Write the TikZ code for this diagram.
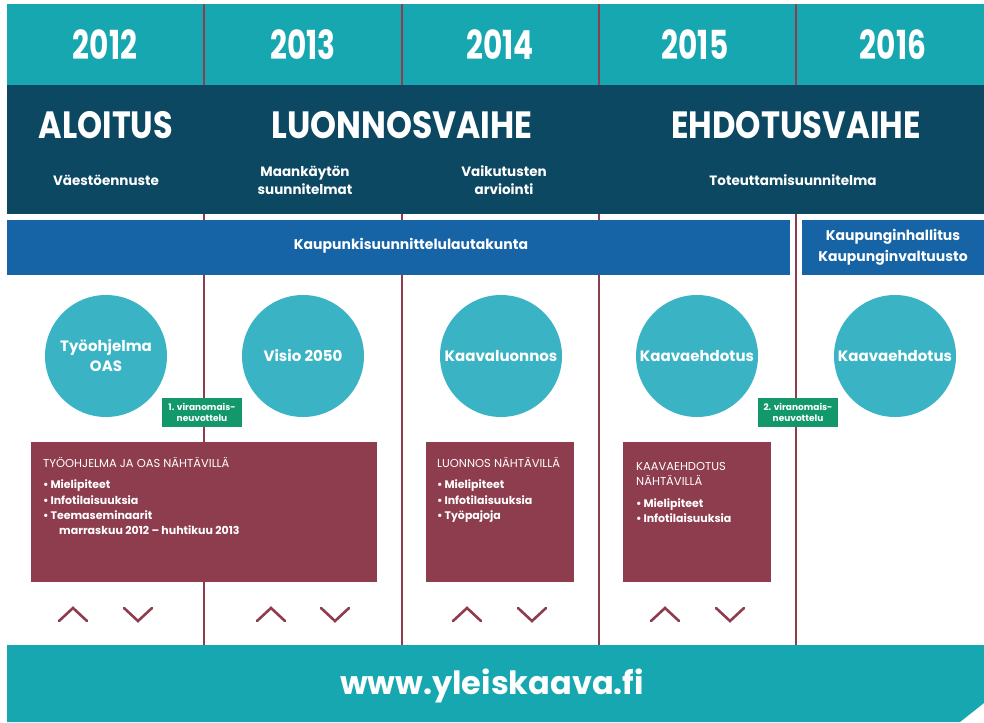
\documentclass[tikz,border=0pt]{standalone}
\usepackage{fontspec}
\setmainfont{Poppins}
\definecolor{tealband}{HTML}{17A7B0}
\definecolor{darkband}{HTML}{0C4862}
\definecolor{blueband}{HTML}{1664A5}
\definecolor{circ}{HTML}{3AB4C5}
\definecolor{maroon}{HTML}{8E3D4E}
\definecolor{vline}{HTML}{8E3D4E}
\definecolor{greenbox}{HTML}{12986A}
\begin{document}
\begin{tikzpicture}[x=1pt,y=-1pt,
  yeartxt/.style={text=white,inner sep=0,font=\fontsize{40}{40}\selectfont\bfseries},
  phasetxt/.style={text=white,inner sep=0,font=\fontsize{38}{38}\selectfont\bfseries},
  subtxt/.style={text=white,inner sep=0,font=\fontsize{13.5}{18}\selectfont\bfseries,align=center},
  bandtxt/.style={text=white,inner sep=0,font=\fontsize{14}{21}\selectfont\bfseries,align=center},
  circnode/.style={circle,fill=circ,minimum size=122pt,inner sep=0,text=white,font=\fontsize{15}{20}\selectfont\bfseries,align=center},
  greennode/.style={fill=greenbox,minimum width=80pt,minimum height=29pt,inner sep=0,text=white,font=\fontsize{9}{11}\selectfont\bfseries,align=center},
  boxnode/.style={fill=maroon,inner sep=0,anchor=north west},
  boxtitle/.style={text=white,inner sep=0,anchor=base west,font=\fontsize{11.5}{14}\selectfont},
  boxitem/.style={text=white,inner sep=0,anchor=base west,font=\fontsize{11}{15}\selectfont\bfseries},
  divider/.style={draw=vline,line width=2pt},
  chev/.style={draw=maroon,line width=2.6pt,line cap=round,line join=miter}]
\useasboundingbox (0,0) rectangle (984,722);
\fill[white] (0,0) rectangle (984,722);
% top band
\fill[tealband] (7,4) rectangle (984,85);
% dividers
\draw[divider] (204,4) -- (204,645);
\draw[divider] (402,4) -- (402,645);
\draw[divider] (599,4) -- (599,645);
\draw[divider] (796,4) -- (796,645);
% dark band
\fill[darkband] (7,85) rectangle (984,214);
% blue bands
\node[fill=blueband,inner sep=0,minimum width=783pt,minimum height=55pt,anchor=north west] (kslk) at (7,220) {};
\node[fill=blueband,inner sep=0,minimum width=182pt,minimum height=55pt,anchor=north west] (khkv) at (802,220) {};
\node[bandtxt] (kslkt) at (411,246) {Kaupunkisuunnittelulautakunta};
\node[bandtxt] (khkvt) at (893,247) {Kaupunginhallitus\\Kaupunginvaltuusto};
% bottom band
\fill[tealband] (7,645) -- (984,645) -- (984,703) -- (960,722) -- (7,722) -- cycle;
\node[text=white,inner sep=0,font=\fontsize{32}{32}\selectfont\bfseries] (url) at (492,686) {www.yleiskaava.fi};
% years
\node[yeartxt] (y12) at (105,45) {\scalebox{0.74}[1]{2012}};
\node[yeartxt] (y13) at (303,45) {\scalebox{0.74}[1]{2013}};
\node[yeartxt] (y14) at (500,45) {\scalebox{0.74}[1]{2014}};
\node[yeartxt] (y15) at (695,45) {\scalebox{0.74}[1]{2015}};
\node[yeartxt] (y16) at (893,45) {\scalebox{0.74}[1]{2016}};
% phases
\node[phasetxt] (p1) at (106,125) {\scalebox{0.84}[1]{ALOITUS}};
\node[phasetxt] (p2) at (402,125) {\scalebox{0.87}[1]{LUONNOSVAIHE}};
\node[phasetxt] (p3) at (796,125) {\scalebox{0.85}[1]{EHDOTUSVAIHE}};
\node[subtxt] (s1) at (106,180) {Väestöennuste};
\node[subtxt] (s2) at (305,180) {Maankäytön\\suunnitelmat};
\node[subtxt] (s3) at (504,180) {Vaikutusten\\arviointi};
\node[subtxt] (s4) at (793,180) {Toteuttamisuunnitelma};
% circles
\node[circnode] (c1) at (106,356) {Työohjelma\\OAS};
\node[circnode] (c2) at (303,356) {Visio 2050};
\node[circnode] (c3) at (501,356) {Kaavaluonnos};
\node[circnode] (c4) at (697,356) {Kaavaehdotus};
\node[circnode] (c5) at (895,356) {Kaavaehdotus};
% green boxes
\node[greennode] (g1) at (202,412) {1. viranomais-\\neuvottelu};
\node[greennode] (g2) at (798,412) {2. viranomais-\\neuvottelu};
% maroon boxes
\node[boxnode,minimum width=346pt,minimum height=140pt] (b1) at (31,442) {};
\node[boxnode,minimum width=148pt,minimum height=140pt] (b2) at (426,442) {};
\node[boxnode,minimum width=148pt,minimum height=140pt] (b3) at (623,442) {};
\node[boxtitle] (b1t) at (43,467) {TYÖOHJELMA JA OAS NÄHTÄVILLÄ};
\node[boxitem] (b1a) at (43,488) {•\,Mielipiteet};
\node[boxitem] (b1b) at (43,504) {•\,Infotilaisuuksia};
\node[boxitem] (b1c) at (43,519) {•\,Teemaseminaarit};
\node[boxitem] (b1d) at (59,534) {marraskuu 2012 – huhtikuu 2013};
\node[boxtitle] (b2t) at (437,467) {LUONNOS NÄHTÄVILLÄ};
\node[boxitem] (b2a) at (437,488) {•\,Mielipiteet};
\node[boxitem] (b2b) at (437,504) {•\,Infotilaisuuksia};
\node[boxitem] (b2c) at (437,519) {•\,Työpajoja};
\node[boxtitle] (b3t) at (636,470) {KAAVAEHDOTUS};
\node[boxtitle] (b3u) at (636,485) {NÄHTÄVILLÄ};
\node[boxitem] (b3a) at (636,507) {•\,Mielipiteet};
\node[boxitem] (b3b) at (636,522) {•\,Infotilaisuuksia};
% chevrons
\draw[chev] (59,621) -- (73,608) -- (87,621);
\draw[chev] (124,608) -- (138,621) -- (152,608);
\draw[chev] (257,621) -- (271,608) -- (285,621);
\draw[chev] (321,608) -- (335,621) -- (349,608);
\draw[chev] (453,621) -- (467,608) -- (481,621);
\draw[chev] (518,608) -- (532,621) -- (546,608);
\draw[chev] (651,621) -- (665,608) -- (679,621);
\draw[chev] (716,608) -- (730,621) -- (744,608);
\end{tikzpicture}
\end{document}
